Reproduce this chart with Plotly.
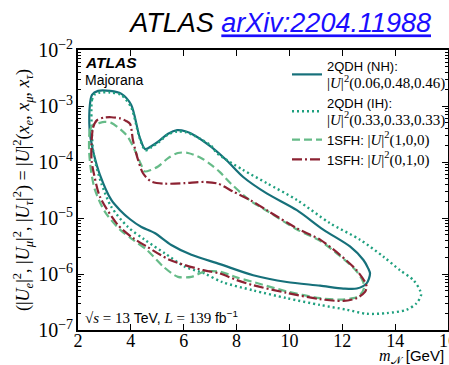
import plotly.graph_objects as go

# ---- data (mass in GeV, mixing |U|^2) ----
nh_mass = [2.44, 2.45, 2.53, 2.76, 3.21, 3.63, 4.01, 4.33, 4.54, 4.80, 5.03, 5.41, 5.75, 6.09, 6.43, 7.04, 7.64, 8.25, 9.14, 10.28, 11.28, 12.29, 12.80, 12.98, 13.05, 12.92, 12.55, 12.04, 11.16, 9.90, 8.63, 7.37, 6.29, 5.53, 4.90, 4.40, 3.97, 3.59, 3.26, 2.83, 2.61, 2.49, 2.44]
nh_u2 = [3.7e-4, 1.05e-3, 1.58e-3, 1.86e-3, 1.86e-3, 1.66e-3, 1.05e-3, 2.8e-4, 1.7e-4, 1.95e-4, 2.3e-4, 3.2e-4, 3.7e-4, 3.5e-4, 2.95e-4, 1.86e-4, 1.05e-4, 5.4e-5, 2.75e-5, 1.38e-5, 6.2e-6, 3.1e-6, 1.78e-6, 1.26e-6, 1.02e-6, 6.8e-7, 5.5e-7, 5.5e-7, 6.2e-7, 7.2e-7, 9.5e-7, 1.5e-6, 2.2e-6, 3.3e-6, 5.4e-6, 6.9e-6, 9.5e-6, 1.38e-5, 2.1e-5, 5.9e-5, 1.32e-4, 2.45e-4, 3.7e-4]

ih_mass = [2.53, 2.53, 2.64, 2.83, 3.21, 3.63, 4.01, 4.33, 4.55, 4.80, 5.03, 5.41, 5.75, 6.09, 6.43, 7.04, 7.25, 8.25, 9.14, 10.28, 11.53, 12.67, 13.55, 14.18, 14.69, 14.94, 14.98, 14.81, 14.44, 13.68, 12.92, 12.17, 11.16, 9.90, 8.63, 7.45, 6.79, 6.04, 5.28, 4.52, 3.89, 3.26, 2.88, 2.68, 2.57, 2.53]
ih_u2 = [3.0e-4, 1.29e-3, 1.62e-3, 1.74e-3, 1.74e-3, 1.58e-3, 9.5e-4, 2.7e-4, 1.62e-4, 1.86e-4, 2.2e-4, 3.1e-4, 3.5e-4, 3.4e-4, 2.9e-4, 1.95e-4, 1.45e-4, 7.2e-5, 4.2e-5, 2.1e-5, 8.1e-6, 4.1e-6, 2.05e-6, 1.17e-6, 7.8e-7, 5.1e-7, 4.2e-7, 3.0e-7, 2.3e-7, 2.0e-7, 1.95e-7, 2.3e-7, 2.8e-7, 3.7e-7, 5.1e-7, 7.2e-7, 1.02e-6, 1.35e-6, 2.35e-6, 4.1e-6, 6.9e-6, 1.58e-5, 4.2e-5, 8.9e-5, 1.62e-4, 3.0e-4]

e_mass = [2.42, 2.45, 2.57, 2.76, 3.01, 3.26, 3.64, 3.89, 4.15, 4.39, 4.52, 4.76, 5.03, 5.41, 5.78, 6.16, 6.67, 7.04, 7.37, 7.79, 8.51, 9.14, 10.27, 11.16, 11.91, 12.54, 12.79, 12.82, 12.67, 12.42, 11.91, 11.16, 9.90, 8.63, 8.00, 7.37, 6.79, 6.29, 5.78, 5.23, 4.60, 4.08, 3.59, 3.02, 2.64, 2.49, 2.42]
e_u2 = [1.62e-4, 3.7e-4, 4.6e-4, 4.9e-4, 5.2e-4, 5.0e-4, 3.7e-4, 2.8e-4, 1.62e-4, 8.9e-5, 6.8e-5, 7.2e-5, 8.3e-5, 1.17e-4, 1.45e-4, 1.45e-4, 1.17e-4, 8.9e-5, 6.6e-5, 4.1e-5, 2.05e-5, 1.35e-5, 6.3e-6, 3.9e-6, 2.1e-6, 1.12e-6, 7.2e-7, 5.6e-7, 4.2e-7, 3.7e-7, 3.5e-7, 3.7e-7, 4.9e-7, 7.2e-7, 8.7e-7, 1.1e-6, 1.1e-6, 8.9e-7, 8.9e-7, 1.35e-6, 2.7e-6, 4.1e-6, 6.2e-6, 1.29e-5, 3.2e-5, 7.2e-5, 1.62e-4]

mu_mass = [2.51, 2.57, 2.72, 2.98, 3.26, 3.59, 3.82, 3.97, 4.08, 4.27, 4.46, 4.77, 5.28, 6.04, 6.79, 7.30, 7.88, 8.51, 9.14, 10.27, 11.16, 11.91, 12.54, 12.86, 12.92, 12.86, 12.54, 12.04, 11.16, 9.90, 8.63, 8.00, 7.37, 6.74, 5.48, 4.60, 4.08, 3.51, 2.83, 2.61, 2.51, 2.51]
mu_u2 = [2.0e-4, 4.1e-4, 5.6e-4, 6.2e-4, 6.3e-4, 6.0e-4, 5.4e-4, 4.8e-4, 2.45e-4, 1.1e-4, 6.3e-5, 4.5e-5, 4.1e-5, 4.2e-5, 4.4e-5, 4.1e-5, 2.95e-5, 2.1e-5, 1.38e-5, 6.6e-6, 4.1e-6, 2.2e-6, 1.17e-6, 7.2e-7, 5.9e-7, 4.8e-7, 3.7e-7, 3.3e-7, 3.55e-7, 4.6e-7, 6.3e-7, 7.8e-7, 1.02e-6, 1.17e-6, 1.78e-6, 3.1e-6, 4.4e-6, 7.5e-6, 2.4e-5, 5.9e-5, 1.1e-4, 2.0e-4]

x_ticks = [2, 4, 6, 8, 10, 12, 14, 16]

SERIF = "Liberation Serif"
SANS = "Liberation Sans"

def ser(t, size=None):
    sz = f";font-size:{size}px" if size else ""
    return f"<span style='font-family:{SERIF}{sz}'>{t}</span>"

names = [
    "2QDH (NH):<br>" + ser("|<i>U</i>|<sup>2</sup>(0.06,0.48,0.46)", 15),
    "2QDH (IH):<br>" + ser("|<i>U</i>|<sup>2</sup>(0.33,0.33,0.33)", 15),
    "1SFH: " + ser("|<i>U</i>|<sup>2</sup>(1,0,0)", 15),
    "1SFH: " + ser("|<i>U</i>|<sup>2</sup>(0,1,0)", 15),
]

fig = go.Figure()
fig.add_trace(go.Scatter(x=nh_mass, y=nh_u2, mode="lines", name=names[0],
                         line=dict(color="#16707a", width=2.2, shape="spline", smoothing=0.8)))
fig.add_trace(go.Scatter(x=ih_mass, y=ih_u2, mode="lines", name=names[1],
                         line=dict(color="#1fa07f", width=2.4, dash="2px,3px", shape="spline", smoothing=0.8)))
fig.add_trace(go.Scatter(x=e_mass, y=e_u2, mode="lines", name=names[2],
                         line=dict(color="#66bb88", width=2.2, dash="8px,4px", shape="spline", smoothing=0.8)))
fig.add_trace(go.Scatter(x=mu_mass, y=mu_u2, mode="lines", name=names[3],
                         line=dict(color="#8c2232", width=2.2, dash="10px,3px,2px,3px", shape="spline", smoothing=0.8)))

axis_common = dict(showline=True, linecolor="black", linewidth=1.5, mirror="allticks",
                   ticks="inside", tickcolor="black", showgrid=False, zeroline=False)

fig.update_xaxes(range=[2, 16], tickmode="array", tickvals=x_ticks,
                 ticktext=[str(v) for v in x_ticks], ticklen=6, automargin=False,
                 tickfont=dict(family=SERIF, size=18, color="black"), **axis_common)
try:
    fig.update_xaxes(ticklabelstandoff=-6)
except Exception:
    pass
try:
    fig.update_xaxes(ticklabeloverflow="allow")
except Exception:
    pass
fig.update_yaxes(type="log", range=[-7, -2], dtick=1, ticklen=6, exponentformat="power",
                 showexponent="all", automargin=False,
                 tickfont=dict(family=SERIF, size=16, color="black"),
                 minor=dict(ticks="inside", ticklen=3, tickcolor="black", dtick="D1", showgrid=False),
                 title=dict(text="(|<i>U<sub>e</sub></i>|<sup>2</sup>, |<i>U<sub>μ</sub></i>|<sup>2</sup>, |<i>U<sub>τ</sub></i>|<sup>2</sup>) = |<i>U</i>|<sup>2</sup>(<i>x<sub>e</sub></i>, <i>x<sub>μ</sub></i>, <i>x<sub>τ</sub></i>)",
                            font=dict(family=SERIF, size=18, color="black"), standoff=4),
                 **axis_common)

L, T, W, H = 78, 50, 370, 280

def px(xp):
    return (xp - L) / W

def py(yp):
    return (T + H - yp) / H

annotations = [
    dict(x=px(83), y=py(63), text="<b><i>ATLAS</i></b>", font=dict(family=SANS, size=15.5, color="black")),
    dict(x=px(83), y=py(80), text="Majorana", font=dict(family=SANS, size=14, color="black")),
    dict(x=px(83), y=py(317),
         text=ser("√<i>s</i> = 13 ", 15) + "TeV, " + ser("<i>L</i> = 139 ", 15) + "fb<sup>−1</sup>",
         font=dict(family=SANS, size=14, color="black")),
]
for a in annotations:
    a.update(xref="paper", yref="paper", xanchor="left", yanchor="middle", showarrow=False)
annotations.append(dict(xref="paper", yref="paper", x=px(446), y=py(356), xanchor="right", yanchor="middle",
                        showarrow=False,
                        text=ser("<i>m</i><sub>𝒩</sub>", 16) + " [GeV]",
                        font=dict(family=SANS, size=15, color="black")))

fig.update_layout(
    width=449, height=365,
    margin=dict(l=L, r=449 - L - W, t=T, b=365 - T - H, autoexpand=False),
    paper_bgcolor="white", plot_bgcolor="white",
    title=dict(text="<i>ATLAS <span style='color:#1a0dff'><u>arXiv:2204.11988</u></span></i>",
               x=431 / 449, xanchor="right", xref="container",
               y=1 - 23 / 365, yanchor="middle", yref="container",
               font=dict(family=SANS, size=27, color="black")),
    legend=dict(x=px(287), y=py(51), xanchor="left", yanchor="top",
                bgcolor="rgba(0,0,0,0)", borderwidth=0,
                font=dict(family=SANS, size=13, color="black"),
                itemwidth=30, tracegroupgap=2),
    annotations=annotations,
    showlegend=True,
)

fig.write_html("out.html")
